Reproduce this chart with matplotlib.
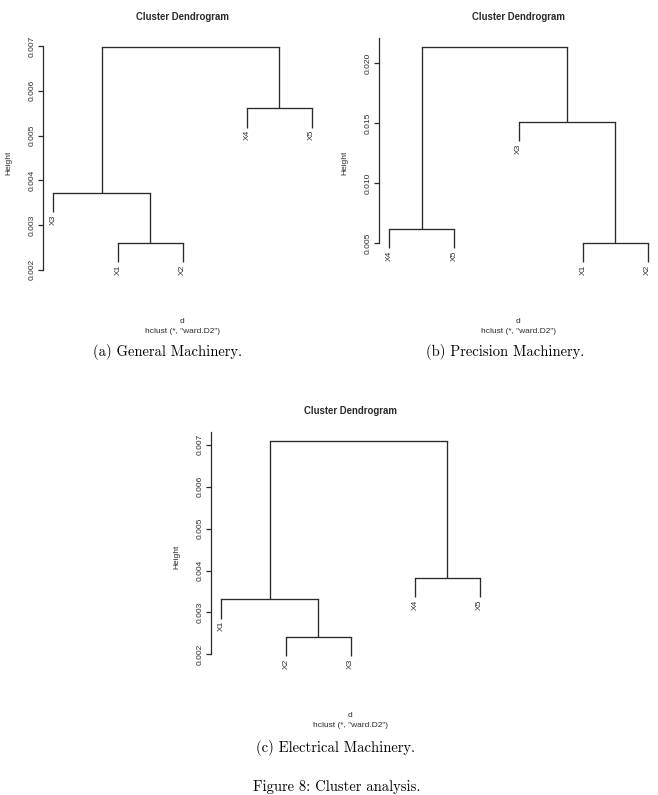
import numpy as np
import matplotlib
matplotlib.use('Agg')
import matplotlib.pyplot as plt

# canvas size in pixels
W, H = 658, 795

# dendrogram data (leaf order as drawn, merges as (left, right, height))
leaves_a = ['X3', 'X1', 'X2', 'X4', 'X5']
merges_a = [('X1', 'X2', 0.00260), ('X3', 0, 0.00372),
            ('X4', 'X5', 0.00561), (1, 2, 0.00699)]
ticks_a = [0.002, 0.003, 0.004, 0.005, 0.006, 0.007]

leaves_b = ['X4', 'X5', 'X3', 'X1', 'X2']
merges_b = [('X1', 'X2', 0.00505), ('X4', 'X5', 0.00622),
            ('X3', 0, 0.01514), (1, 2, 0.02139)]
ticks_b = [0.005, 0.010, 0.015, 0.020, 0.025]

leaves_c = ['X1', 'X2', 'X3', 'X4', 'X5']
merges_c = [('X2', 'X3', 0.00242), ('X1', 0, 0.00332),
            ('X4', 'X5', 0.00383), (1, 2, 0.00710)]
ticks_c = [0.002, 0.003, 0.004, 0.005, 0.006, 0.007, 0.008]

captions = ['(a) General Machinery.', '(b) Precision Machinery.', '(c) Electrical Machinery.']
fig_caption = 'Figure 8: Cluster analysis.'

SANS = 'Liberation Sans'
INK = '#2a2a2a'


def fx(x):
    return x / W


def fy(y):
    return 1 - y / H


def dendro(fig, left, top, leaves, merges, ticks, title_txt):
    w, h = 279, 233
    ax = fig.add_axes([fx(left), fy(top + h), w / W, h / H])
    heights = [m[2] for m in merges]
    hang = 0.1 * (max(heights) - min(heights))
    pos = {lab: i + 1 for i, lab in enumerate(leaves)}
    nodes = []  # (x, y) of each merge
    low = max(heights)
    for a, b, hh in merges:
        xs = []
        for c in (a, b):
            if isinstance(c, str):
                cx, cy = pos[c], hh - hang
                low = min(low, cy)
                ax.annotate(c, (cx, cy), xytext=(0, -1.6), textcoords='offset points',
                            rotation=90, ha='center', va='top', fontsize=6,
                            family=SANS, color=INK)
            else:
                cx, cy = nodes[c]
            ax.plot([cx, cx], [cy, hh], color=INK, lw=0.95, solid_capstyle='butt')
            xs.append(cx)
        ax.plot(xs, [hh, hh], color=INK, lw=0.95, solid_capstyle='projecting')
        nodes.append((np.mean(xs), hh))

    rng = max(heights) - low
    ylo, yhi = low - 0.04 * rng, max(heights) + 0.04 * rng
    ax.set_ylim(ylo, yhi)
    ax.set_xlim(0.84, 5.16)

    shown = [t for t in ticks if ylo <= t <= yhi]
    ax.set_yticks(shown)
    ax.set_yticklabels(['%.3f' % t for t in shown])
    ax.tick_params(axis='y', labelrotation=90, length=3.8, width=0.9, pad=1.2,
                   labelsize=6, colors=INK)
    for lab in ax.get_yticklabels():
        lab.set_family(SANS)
        lab.set_va('center')
    ax.set_xticks([])
    for s in ('top', 'right', 'bottom'):
        ax.spines[s].set_visible(False)
    ax.spines['left'].set_bounds(shown[0], min(ticks[-1], yhi))
    ax.spines['left'].set_linewidth(0.9)
    ax.spines['left'].set_color(INK)
    ax.patch.set_visible(False)

    cx = left + w / 2
    fig.text(fx(cx), fy(top - 20.5), title_txt, ha='center', va='center',
             fontsize=6.9, fontweight='bold', family=SANS, color=INK)
    fig.text(fx(cx), fy(top + h + 50.5), 'd', ha='center', va='center',
             fontsize=6, family=SANS, color=INK)
    fig.text(fx(cx), fy(top + h + 60.5), 'hclust (*, "ward.D2")', ha='center',
             va='center', fontsize=6, family=SANS, color=INK)
    fig.text(fx(left - 34), fy(top + 124.5), 'Height', rotation=90, ha='center',
             va='center', fontsize=6, family=SANS, color=INK)
    return ax


fig = plt.figure(figsize=(W / 100, H / 100), dpi=100)
fig.patch.set_facecolor('white')

dendro(fig, 43, 38, leaves_a, merges_a, ticks_a, 'Cluster Dendrogram')
dendro(fig, 379, 38, leaves_b, merges_b, ticks_b, 'Cluster Dendrogram')
dendro(fig, 211, 432, leaves_c, merges_c, ticks_c, 'Cluster Dendrogram')

cap_font = dict(family='cmr10', fontsize=10.5, ha='center', va='center', color='black')
fig.text(fx(168), fy(351.5), captions[0], **cap_font)
fig.text(fx(505), fy(351.5), captions[1], **cap_font)
fig.text(fx(336), fy(747.5), captions[2], **cap_font)
fig.text(fx(336.5), fy(787), fig_caption, **cap_font)

plt.savefig('out.png', dpi=100)
